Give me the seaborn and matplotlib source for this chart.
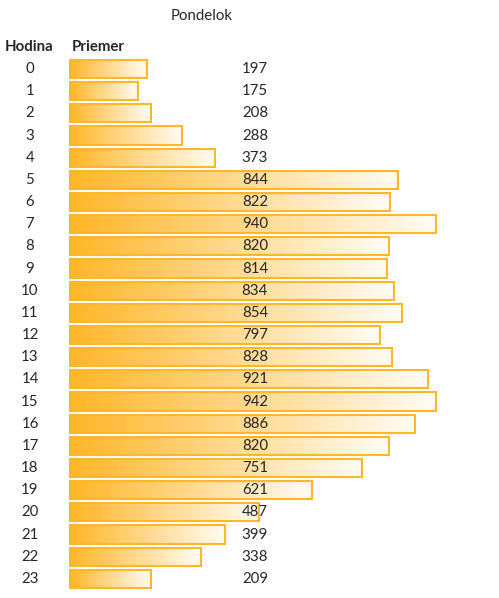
import numpy as np
import pandas as pd
import matplotlib
matplotlib.use('Agg')
import matplotlib.pyplot as plt
from matplotlib.colors import LinearSegmentedColormap
import seaborn as sns

# hodiny a priemerne hodnoty (pondelok)
hodiny = [str(h) for h in range(24)]
priemer = [197, 175, 208, 288, 373, 844, 822, 940, 820, 814, 834, 854,
           797, 828, 921, 942, 886, 820, 751, 621, 487, 399, 338, 209]
title = 'Pondelok'
col_labels = ['Hodina', 'Priemer']

df = pd.DataFrame({'Hodina': hodiny, 'Priemer': priemer})

sns.set_theme(style='white')
plt.rcParams['font.family'] = ['Lato', 'DejaVu Sans']

fig = plt.figure(figsize=(4.99, 5.98), dpi=100)
ax = fig.add_axes([0, 0, 1, 1])

sns.barplot(data=df, x='Priemer', y='Hodina', orient='h', ax=ax,
            color='#FFB628', edgecolor='#FFB628', linewidth=1.5, width=0.82)

# pixel mapping: 0.389 px per unit, bars start at px 70, row pitch 22.17 px
px_unit = 0.389
xlim = (-70 / px_unit, (499 - 70) / px_unit)
ylim = ((598 - 69) / 22.17, -69 / 22.17)

# gradient fill inside each bar (Excel data bar look)
cmap = LinearSegmentedColormap.from_list('bar', ['#FFB628', '#FFFFFF'])
grad = np.linspace(0, 1, 256).reshape(1, -1)
for p in list(ax.patches):
    x0, y0 = p.get_x(), p.get_y()
    w, h = p.get_width(), p.get_height()
    im = ax.imshow(grad, cmap=cmap, aspect='auto', extent=[x0, x0 + w, y0 + h, y0],
                   zorder=1, vmin=0, vmax=1.05, interpolation='bilinear')
    im.set_clip_path(p)
    p.set_facecolor('none')
    p.set_zorder(2)

ax.set_xlim(*xlim)
ax.set_ylim(*ylim)
ax.axis('off')

fs = 10.8
for i, (h, v) in enumerate(zip(hodiny, priemer)):
    ax.text((30 - 70) / px_unit, i, h, ha='center', va='center', fontsize=fs, zorder=3)
    ax.text((268 - 70) / px_unit, i, str(v), ha='right', va='center', fontsize=fs, zorder=3)

ax.text((5 - 70) / px_unit, -1.0, col_labels[0], ha='left', va='center',
        fontsize=fs, fontweight='bold')
ax.text((72 - 70) / px_unit, -1.0, col_labels[1], ha='left', va='center',
        fontsize=fs, fontweight='bold')
ax.text((202 - 70) / px_unit, (16 - 69) / 22.17, title, ha='center', va='center',
        fontsize=fs)

fig.savefig('out.png', dpi=100)
